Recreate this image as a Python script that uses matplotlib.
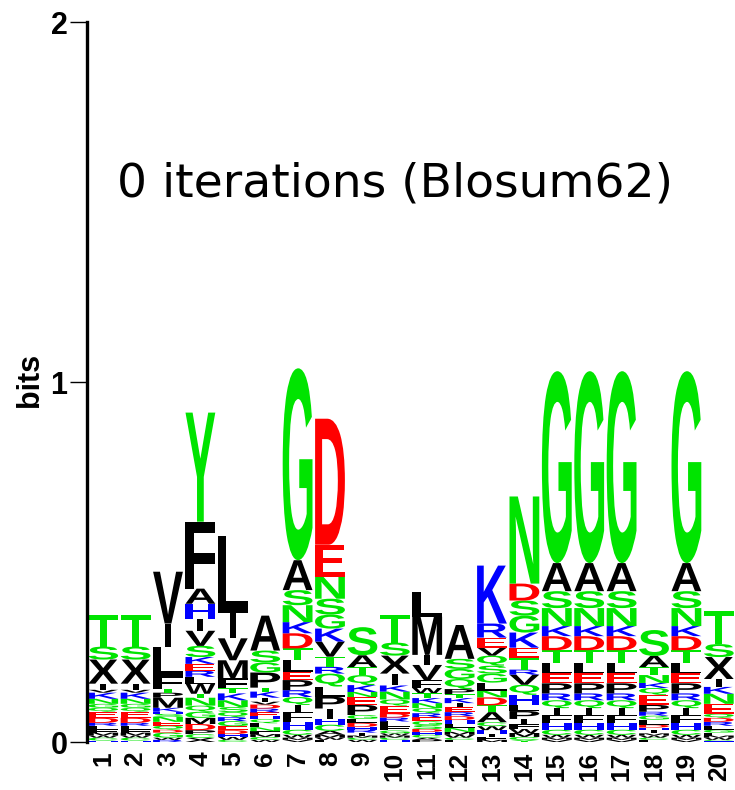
import matplotlib
matplotlib.use("Agg")
import matplotlib.pyplot as plt
from matplotlib.font_manager import FontProperties
from matplotlib.textpath import TextPath
from matplotlib.patches import PathPatch
from matplotlib.transforms import Affine2D

# Sequence logo, 0 iterations (Blosum62). Each column: letters bottom -> top, heights in bits.
positions = list(range(1, 21))
y_ticks = [0, 1, 2]
title = "0 iterations (Blosum62)"

letters = [
    "HCWMFLRDEQGNKVIXST",
    "HCWMFLRDEQGNKVIXST",
    "RWGDQENSHKMPTFLIV",
    "XCPDMGQNTWLREKSVIHAFY",
    "CWHDEGRQSNKTFMVIL",
    "WCMFNLQHERDVIKTPGSA",
    "VMWCHFIQRPELTDKNSAG",
    "FWMACHIPLQRTVKGSNED",
    "WCMIRHDLGPENKQTAS",
    "HCMWGFLRDEQNKIXST",
    "PACHDSGERQNKTWFVIML",
    "FCWMNLHDREIKTPQGSA",
    "MFIHWCATDNLGSQVERK",
    "YCMWFIPLHQVRTEKGSDN",
    "VMWCHFIQRPELTDKNSAG",
    "VMWCHFIQRPELTDKNSAG",
    "VMWCHFIQRPELTDKNSAG",
    "FCWMIHDLGRPEQKNTAS",
    "VMWCHFIQRPELTDKNSAG",
    "HCWMFGLRDQENKIXST",
]

heights = [
    [.004, .008, .006, .008, .008, .011, .008, .014, .017, .011, .011, .014, .017, .008, .017, .067, .036, .089],
    [.004, .008, .006, .008, .008, .011, .008, .014, .017, .011, .011, .014, .017, .008, .017, .067, .036, .089],
    [.006, .006, .014, .008, .011, .011, .014, .008, .006, .011, .028, .014, .011, .036, .081, .064, .144],
    [.011, .011, .011, .017, .017, .017, .017, .022, .011, .028, .019, .017, .019, .019, .031, .042, .033,
     .042, .042, .186, .303],
    [.006, .008, .008, .011, .011, .014, .011, .014, .014, .019, .019, .014, .028, .050, .061, .069, .214],
    [.006, .008, .008, .008, .011, .011, .011, .008, .011, .011, .011, .008, .011, .017, .011, .042, .028,
     .033, .097],
    [.006, .006, .008, .014, .022, .028, .019, .022, .019, .028, .022, .033, .033, .042, .031, .047, .042,
     .083, .533],
    [.006, .006, .008, .011, .017, .017, .028, .033, .028, .036, .019, .028, .042, .036, .039, .044, .061,
     .089, .350],
    [.006, .006, .006, .008, .008, .008, .011, .011, .011, .028, .022, .014, .019, .028, .022, .033, .078],
    [.006, .006, .006, .006, .008, .011, .014, .011, .011, .022, .017, .022, .017, .033, .050, .036, .078],
    [.006, .006, .008, .008, .008, .011, .011, .011, .011, .014, .014, .014, .014, .014, .022, .042, .028,
     .106, .069],
    [.006, .006, .008, .008, .011, .011, .011, .011, .011, .014, .011, .014, .011, .014, .028, .028, .028,
     .094],
    [.006, .008, .008, .011, .011, .011, .028, .019, .022, .019, .022, .025, .022, .028, .022, .028, .039,
     .161],
    [.006, .008, .011, .011, .014, .014, .022, .017, .028, .028, .028, .014, .033, .028, .042, .047, .042,
     .047, .242],
    [.006, .006, .008, .014, .019, .022, .019, .022, .019, .028, .028, .028, .036, .039, .028, .050, .047,
     .078, .533],
    [.006, .006, .008, .014, .019, .022, .019, .022, .019, .028, .028, .028, .036, .039, .028, .050, .047,
     .078, .533],
    [.006, .006, .008, .014, .019, .022, .019, .022, .019, .028, .028, .028, .036, .039, .028, .050, .047,
     .078, .533],
    [.006, .006, .006, .006, .008, .008, .008, .014, .011, .011, .019, .028, .019, .014, .022, .022, .031,
     .072],
    [.006, .006, .008, .014, .019, .022, .019, .022, .019, .028, .028, .028, .036, .039, .028, .050, .047,
     .078, .533],
    [.003, .003, .006, .006, .008, .008, .011, .011, .011, .011, .028, .028, .019, .022, .061, .036, .092],
]

# weblogo-style amino acid colours
GREEN = "#00e400"
COLORS = {}
for aa in "GSTYCNQ":
    COLORS[aa] = GREEN
for aa in "KRH":
    COLORS[aa] = "#0000ff"
for aa in "DE":
    COLORS[aa] = "#ff0000"
for aa in "AVLIPWFMX":
    COLORS[aa] = "black"

LETTER_FONT = FontProperties(family="Liberation Sans", weight="bold")
LETTER_WIDTH = 0.92
NARROW = {"I": 0.18}  # I keeps its thin stem like weblogo does


def draw_letter(ax, char, x_center, y_bottom, h):
    path = TextPath((0, 0), char, size=1, prop=LETTER_FONT)
    ext = path.get_extents()
    w = NARROW.get(char, LETTER_WIDTH)
    tr = (Affine2D()
          .translate(-ext.x0, -ext.y0)
          .scale(w / ext.width, h / ext.height)
          .translate(x_center - w / 2, y_bottom))
    patch = PathPatch(tr.transform_path(path), facecolor=COLORS[char],
                      edgecolor="none", linewidth=0)
    ax.add_patch(patch)


fig = plt.figure(figsize=(7.35, 7.9), dpi=100)
ax = fig.add_axes([87 / 735, 48 / 790, 648 / 735, 720 / 790])

for pos, seq, hs in zip(positions, letters, heights):
    y = 0.0
    for ch, h in zip(seq, hs):
        draw_letter(ax, ch, pos, y, h)
        y += h

ax.set_xlim(0.5, 20.5)
ax.set_ylim(0, 2)

for side in ("top", "right", "bottom"):
    ax.spines[side].set_visible(False)
ax.spines["left"].set_linewidth(2.4)

ax.set_yticks(y_ticks)
ax.set_yticklabels([str(t) for t in y_ticks], fontsize=22, fontweight="bold",
                   family="Liberation Sans")
ax.tick_params(axis="y", length=12, width=1.0, pad=2)

ax.set_xticks(positions)
ax.set_xticklabels([str(p) for p in positions], rotation=90, fontsize=19,
                   fontweight="bold", family="Liberation Sans")
ax.tick_params(axis="x", length=0, pad=7)

fig.text(30 / 735, 1 - 380 / 790, "bits", rotation=90, ha="center", va="center",
         fontsize=22, fontweight="bold", family="Liberation Sans")

ax.text(10.0, 1.55, title, ha="center", va="center", fontsize=34,
        family="DejaVu Sans")

fig.savefig("out.png", dpi=100)
